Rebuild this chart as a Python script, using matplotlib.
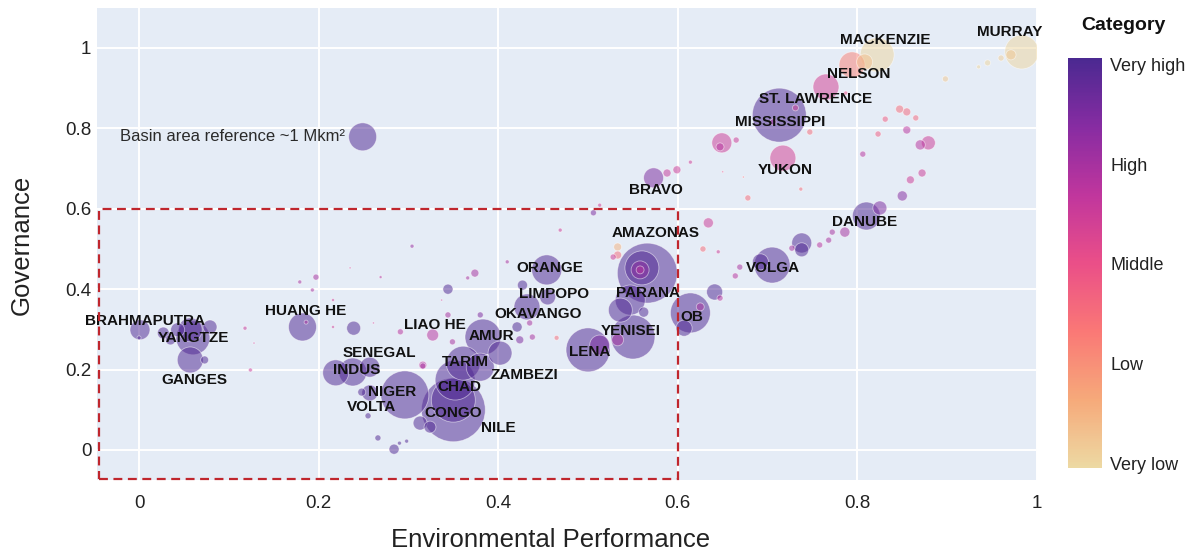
import matplotlib
matplotlib.use("Agg")
import matplotlib.pyplot as plt
from matplotlib.colors import LinearSegmentedColormap, Normalize
from matplotlib.patches import Rectangle
import numpy as np

plt.rcParams['font.family'] = ['Liberation Sans', 'DejaVu Sans']

# ---- data: one entry per basin bubble -------------------------------
# environmental performance (x), governance (y), basin area (Mkm2), category score (0 very low .. 4 very high)
env_perf = [0.249, 0.001, 0.000, 0.027, 0.035, 0.043, 0.060, 0.057, 0.079, 0.057,
            0.073, 0.118, 0.124, 0.128, 0.182, 0.186, 0.179, 0.197, 0.193, 0.216,
            0.235, 0.269, 0.304, 0.216, 0.261, 0.239, 0.219, 0.238, 0.257, 0.316,
            0.257, 0.248, 0.255, 0.296, 0.266, 0.284, 0.298, 0.290, 0.350, 0.350,
            0.313, 0.324, 0.352, 0.361, 0.383, 0.402, 0.380, 0.432, 0.421, 0.454,
            0.455, 0.427, 0.327, 0.291, 0.344, 0.349, 0.316, 0.374, 0.366, 0.344,
            0.410, 0.469, 0.438, 0.424, 0.465, 0.435, 0.500, 0.513, 0.550, 0.536,
            0.533, 0.566, 0.560, 0.558, 0.558, 0.547, 0.562, 0.614, 0.641, 0.607,
            0.625, 0.533, 0.528, 0.634, 0.628, 0.645, 0.678, 0.506, 0.705, 0.692,
            0.669, 0.664, 0.647, 0.738, 0.738, 0.727, 0.758, 0.768, 0.772, 0.786,
            0.810, 0.825, 0.850, 0.859, 0.872, 0.806, 0.879, 0.870, 0.855, 0.823,
            0.831, 0.865, 0.847, 0.855, 0.822, 0.808, 0.794, 0.765, 0.983, 0.971,
            0.960, 0.945, 0.935, 0.898, 0.713, 0.731, 0.747, 0.717, 0.649, 0.647,
            0.665, 0.614, 0.599, 0.588, 0.573, 0.673, 0.650, 0.380, 0.337, 0.513,
            0.706, 0.787, 0.737, 0.533]
governance = [0.779, 0.299, 0.279, 0.291, 0.274, 0.299, 0.279, 0.299, 0.306, 0.224,
              0.224, 0.303, 0.199, 0.266, 0.306, 0.318, 0.418, 0.430, 0.398, 0.373,
              0.453, 0.430, 0.507, 0.306, 0.316, 0.303, 0.192, 0.194, 0.206, 0.209,
              0.142, 0.144, 0.085, 0.137, 0.030, 0.002, 0.022, 0.017, 0.100, 0.124,
              0.067, 0.057, 0.174, 0.216, 0.281, 0.241, 0.206, 0.356, 0.306, 0.448,
              0.381, 0.410, 0.286, 0.294, 0.336, 0.269, 0.211, 0.440, 0.428, 0.400,
              0.468, 0.547, 0.281, 0.274, 0.279, 0.316, 0.249, 0.261, 0.281, 0.348,
              0.274, 0.440, 0.453, 0.448, 0.448, 0.373, 0.343, 0.341, 0.393, 0.303,
              0.356, 0.485, 0.480, 0.565, 0.500, 0.493, 0.627, 0.590, 0.460, 0.468,
              0.455, 0.433, 0.378, 0.515, 0.498, 0.502, 0.510, 0.522, 0.542, 0.542,
              0.582, 0.602, 0.632, 0.672, 0.689, 0.736, 0.764, 0.759, 0.796, 0.786,
              0.823, 0.826, 0.848, 0.841, 0.983, 0.965, 0.958, 0.903, 0.990, 0.983,
              0.975, 0.963, 0.953, 0.923, 0.833, 0.851, 0.791, 0.726, 0.764, 0.754,
              0.771, 0.716, 0.697, 0.689, 0.677, 0.679, 0.692, 0.336, 0.373, 0.609,
              0.816, 0.888, 0.649, 0.505]
basin_area = [1.00, 0.51, 0.02, 0.18, 0.13, 0.25, 1.47, 0.73, 0.25, 0.86,
              0.08, 0.02, 0.02, 0.005, 1.00, 0.02, 0.02, 0.046, 0.02, 0.011,
              0.005, 0.011, 0.02, 0.011, 0.005, 0.25, 0.86, 1.00, 0.51, 0.046,
              0.33, 0.08, 0.046, 2.94, 0.046, 0.13, 0.02, 0.02, 5.22, 2.47,
              0.25, 0.18, 2.04, 1.47, 1.65, 0.73, 1.00, 0.86, 0.13, 1.15,
              0.33, 0.13, 0.18, 0.046, 0.046, 0.046, 0.08, 0.08, 0.02, 0.13,
              0.02, 0.02, 0.046, 0.08, 0.03, 0.046, 2.47, 0.51, 2.47, 0.73,
              0.18, 4.59, 1.47, 0.41, 0.08, 1.15, 0.13, 2.04, 0.33, 0.33,
              0.08, 0.08, 0.046, 0.13, 0.046, 0.02, 0.046, 0.046, 1.65, 0.33,
              0.046, 0.046, 0.046, 0.51, 0.25, 0.046, 0.046, 0.046, 0.046, 0.13,
              1.00, 0.25, 0.13, 0.08, 0.08, 0.046, 0.25, 0.13, 0.08, 0.046,
              0.046, 0.046, 0.08, 0.08, 1.47, 0.33, 0.86, 0.86, 1.47, 0.13,
              0.046, 0.046, 0.02, 0.046, 3.72, 0.046, 0.046, 0.86, 0.51, 0.08,
              0.046, 0.02, 0.08, 0.08, 0.51, 0.005, 0.005, 0.046, 0.005, 0.02,
              0.046, 0.02, 0.02, 0.08]
category = [4, 4, 4, 4, 4, 4, 4, 4, 4, 4,
            4, 2.6, 2.6, 2.5, 4, 3, 3, 3, 3, 2.5,
            2.5, 2.8, 3.2, 2.5, 2.5, 4, 4, 4, 4, 3,
            4, 4, 4, 4, 4, 4, 4, 4, 4, 4,
            4, 4, 4, 4, 4, 4, 4, 4, 4, 4,
            4, 4, 2.8, 2.8, 3, 3, 2.8, 3, 3, 4,
            3, 2.5, 3, 3.5, 1.5, 3, 4, 3.5, 4, 4,
            3, 4, 4, 3.3, 2.8, 4, 4, 4, 4, 4,
            3, 1.5, 2.5, 2.5, 1.5, 2.5, 1.5, 3.5, 4, 4,
            3, 2.8, 2.8, 4, 4, 3, 2.8, 3, 3, 3,
            4, 3.5, 3.4, 2.5, 2.5, 2.8, 2.5, 2.8, 2.8, 1.8,
            1.8, 1.6, 1.5, 1.6, 0, 0.3, 1.2, 2.4, 0, 0.2,
            0.1, 0, 0, 0.2, 4, 2.5, 1.5, 2.4, 2.5, 2.8,
            2.5, 2.5, 2.5, 2.6, 3.5, 1.5, 2, 3.5, 2.5, 2.5,
            3, 2, 1.5, 0.5]

# river labels
label_names = ['MACKENZIE', 'MURRAY', 'NELSON', 'ST. LAWRENCE', 'MISSISSIPPI', 'YUKON',
               'BRAVO', 'DANUBE', 'AMAZONAS', 'ORANGE', 'VOLGA', 'LIMPOPO', 'PARANA',
               'OKAVANGO', 'OB', 'HUANG HE', 'BRAHMAPUTRA', 'LIAO HE', 'YANGTZE', 'AMUR',
               'YENISEI', 'SENEGAL', 'LENA', 'INDUS', 'TARIM', 'ZAMBEZI', 'GANGES',
               'CHAD', 'NIGER', 'VOLTA', 'CONGO', 'NILE']
label_x = [0.831, 0.970, 0.801, 0.753, 0.714, 0.720, 0.576, 0.808, 0.575, 0.457, 0.706,
           0.462, 0.567, 0.444, 0.616, 0.185, 0.007, 0.329, 0.061, 0.392, 0.548, 0.268,
           0.502, 0.242, 0.363, 0.429, 0.062, 0.357, 0.282, 0.259, 0.350, 0.400]
label_y = [1.020, 1.040, 0.935, 0.873, 0.816, 0.697, 0.647, 0.567, 0.540, 0.453, 0.453,
           0.388, 0.391, 0.338, 0.331, 0.346, 0.321, 0.311, 0.279, 0.284, 0.296, 0.241,
           0.244, 0.199, 0.219, 0.187, 0.174, 0.157, 0.144, 0.107, 0.092, 0.055]

cat_ticks = [0, 1, 2, 3, 4]
cat_labels = ['Very low', 'Low', 'Middle', 'High', 'Very high']
x_ticks = [0, 0.2, 0.4, 0.6, 0.8, 1]
x_ticklabels = ['0', '0.2', '0.4', '0.6', '0.8', '1']
y_ticks = [0, 0.2, 0.4, 0.6, 0.8, 1]
y_ticklabels = ['0', '0.2', '0.4', '0.6', '0.8', '1']

# ---- colours ----------------------------------------------------------
sunset = ['#edd9a3', '#f6a97a', '#fa7876', '#ea4f88', '#c0369d', '#872ca2', '#4b2991']
cmap = LinearSegmentedColormap.from_list('sunset', sunset)
norm = Normalize(vmin=-0.05, vmax=4.07)

# ---- figure -------------------------------------------------------------
fig = plt.figure(figsize=(11.98, 5.54), dpi=100)
ax = fig.add_axes([0.081, 0.1336, 0.7846, 0.852])
ax.set_facecolor('#E5ECF6')
for s in ax.spines.values():
    s.set_visible(False)

# big bubbles first so the small ones stay visible
order = np.argsort(basin_area)[::-1]
xs = np.array(env_perf)[order]
ys = np.array(governance)[order]
sz = np.array(basin_area)[order] * 406
cs = np.array(category)[order]
ax.scatter(xs, ys, s=sz, c=cs, cmap=cmap, norm=norm, alpha=0.52,
           edgecolors=(1, 1, 1, 0.35), linewidths=0.6, zorder=3)

for name, lx, ly in zip(label_names, label_x, label_y):
    ax.text(lx, ly, name, ha='center', va='center', fontsize=11,
            fontweight='bold', color='#111111', zorder=5)

ax.text(-0.021, 0.779, 'Basin area reference ~1 Mkm²', ha='left', va='center',
        fontsize=12, color='#2a2a2a', zorder=5)

ax.set_xlim(-0.0468, 1.0)
ax.set_ylim(-0.0746, 1.0995)
ax.set_xticks(x_ticks)
ax.set_xticklabels(x_ticklabels)
ax.set_yticks(y_ticks)
ax.set_yticklabels(y_ticklabels)
ax.tick_params(length=0, labelsize=13.5, colors='#222222')
ax.tick_params(axis='y', pad=4)
ax.tick_params(axis='x', pad=11)
ax.grid(True, color='white', linewidth=1.4, zorder=0)
ax.set_axisbelow(True)

# red dashed focus box
rect = Rectangle((-0.045, -0.072), 0.645, 0.672, fill=False, edgecolor='#c0262d',
                 linestyle=(0, (4, 2.5)), linewidth=1.6, zorder=6, clip_on=False)
ax.add_patch(rect)

fig.text(22 / 1198, 1 - 245 / 554, 'Governance', rotation=90, ha='center', va='center',
         fontsize=18.5, color='#222222')
fig.text(551 / 1198, 1 - 540 / 554, 'Environmental Performance', ha='center', va='center',
         fontsize=18.5, color='#222222')

# colour bar
cax = fig.add_axes([1068 / 1198, 1 - 468 / 554, 34 / 1198, 410 / 554])
sm = plt.cm.ScalarMappable(cmap=cmap, norm=norm)
cb = fig.colorbar(sm, cax=cax, ticks=cat_ticks)
cb.ax.set_yticklabels(cat_labels)
cb.outline.set_visible(False)
cb.ax.tick_params(length=0, labelsize=13, pad=6, colors='#222222')
fig.text(1123 / 1198, 1 - 25 / 554, 'Category', ha='center', va='center',
         fontsize=14, fontweight='bold', color='#111111')

fig.savefig('out.png', dpi=100)
